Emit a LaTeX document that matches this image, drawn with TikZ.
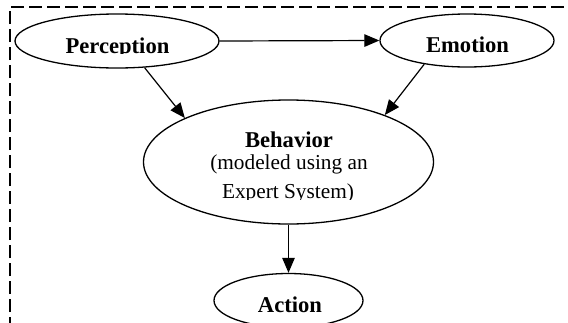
\documentclass[tikz,border=0pt]{standalone}
\usepackage{fontspec}
\setmainfont{Liberation Serif}
\usetikzlibrary{shapes.geometric,arrows.meta}
\tikzset{
  oval/.style={ellipse, draw, line width=1.3pt, inner sep=0pt},
  conn/.style={line width=1.2pt, -{Triangle[length=15pt,width=12.5pt]}},
  frame/.style={line width=1.3pt, dash pattern=on 13pt off 5pt},
  boldtxt/.style={anchor=base, inner sep=0pt, font=\fontsize{22.6}{26}\selectfont\bfseries},
  regtxt/.style={anchor=base, inner sep=0pt, font=\fontsize{21.3}{25}\selectfont},
}
\begin{document}
\begin{tikzpicture}[x=1pt, y=-1pt]
\clip (0,0) rectangle (568,322);
% dashed frame
\draw[frame] (10,330) -- (10,7) -- (600,7);
% ellipses
\node[oval, minimum width=204pt, minimum height=54pt] (P) at (117,41) {};
\node[oval, minimum width=174pt, minimum height=53pt] (E) at (467,40.5) {};
\node[oval, minimum width=290pt, minimum height=124pt] (B) at (288.5,162) {};
\node[oval, minimum width=149pt, minimum height=54pt] (A) at (288.5,300.5) {};
% texts
\begin{scope}
\clip (0,0) rectangle (568,53.6);
\node[boldtxt] (tP) at (117.5,53) {Perception};
\end{scope}
\node[boldtxt] (tE) at (467.5,52) {Emotion};
\node[boldtxt] (tB1) at (289,147.5) {Behavior};
\node[regtxt] (tB2) at (289,169) {(modeled using an};
\begin{scope}
\clip (0,0) rectangle (568,199.2);
\node[regtxt] (tB3) at (288,198.5) {Expert System)};
\end{scope}
\node[boldtxt] (tA) at (290,312) {Action};
% connectors
\draw[conn] (P.east) -- (E.west);
\draw[conn] (P.-44) -- (B.157);
\draw[conn] (E.209.7) -- (B.26.3);
\draw[conn] (B.south) -- (A.north);
\end{tikzpicture}
\end{document}
